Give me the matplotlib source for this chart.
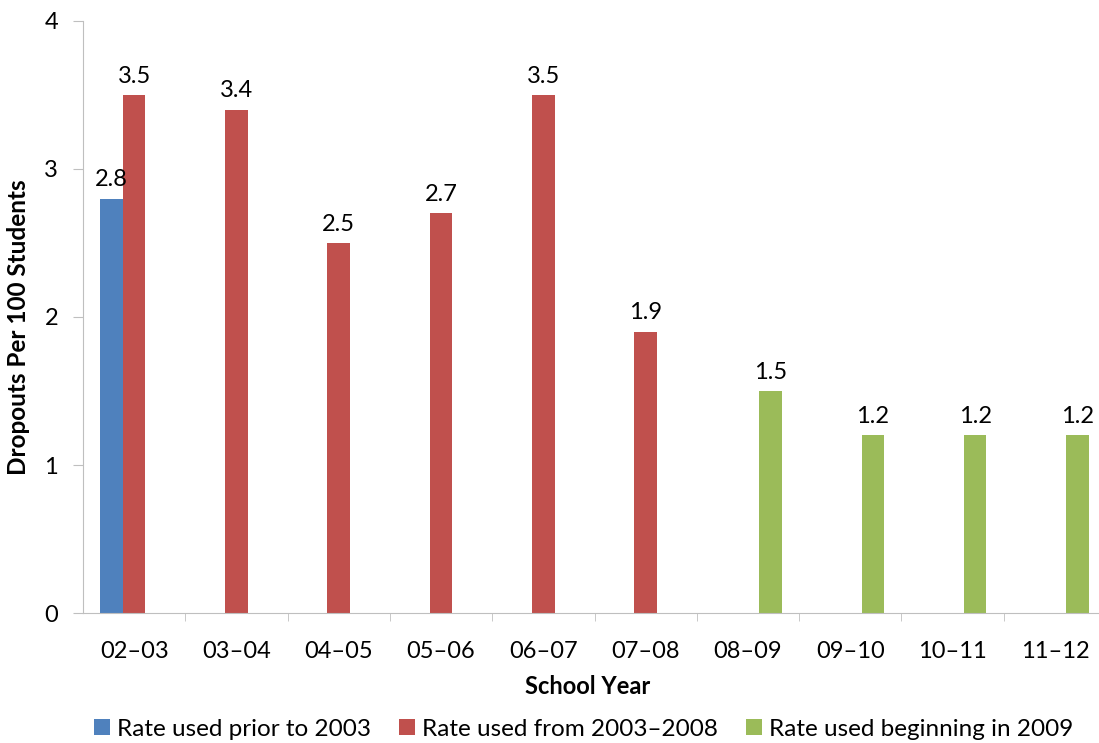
import numpy as np
import matplotlib.pyplot as plt

plt.rcParams['font.family'] = ['Lato', 'DejaVu Sans']

years = ['02\u201303', '03\u201304', '04\u201305', '05\u201306', '06\u201307',
         '07\u201308', '08\u201309', '09\u201310', '10\u201311', '11\u201312']
prior_2003 = [2.8, None, None, None, None, None, None, None, None, None]
from_2003_2008 = [3.5, 3.4, 2.5, 2.7, 3.5, 1.9, None, None, None, None]
from_2009 = [None, None, None, None, None, None, 1.5, 1.2, 1.2, 1.2]
series_names = ['Rate used prior to 2003', 'Rate used from 2003\u20132008',
                'Rate used beginning in 2009']
colors = ['#4F81BD', '#C0504D', '#9BBB59']

W, H = 1099, 743
fig = plt.figure(figsize=(W / 100, H / 100), dpi=100)
ax = fig.add_axes([83 / W, 130 / H, 1023 / W, 592 / H])

x = np.arange(len(years))
bw = 0.22
all_series = [prior_2003, from_2003_2008, from_2009]
for i, (vals, name, col) in enumerate(zip(all_series, series_names, colors)):
    v = np.array([np.nan if a is None else a for a in vals], dtype=float)
    bars = ax.bar(x + (i - 1) * bw, v, bw, color=col, label=name)
    labels = ['' if np.isnan(a) else '%.1f' % a for a in v]
    ax.bar_label(bars, labels=labels, padding=6, fontsize=17, color='#000000')

ax.set_xlim(-0.5, len(years) - 0.5)
ax.set_ylim(0, 4)
ax.set_yticks([0, 1, 2, 3, 4])
ax.set_xticks(x)
ax.set_xticklabels(years)
ax.set_xticks(np.arange(0.5, len(years) - 0.5, 1), minor=True)
ax.tick_params(axis='x', which='major', length=0, pad=20, labelsize=17)
ax.tick_params(axis='x', which='minor', length=6, color='#BFBFBF')
ax.tick_params(axis='y', length=7, color='#BFBFBF', pad=11, labelsize=17)

for s in ['top', 'right']:
    ax.spines[s].set_visible(False)
for s in ['left', 'bottom']:
    ax.spines[s].set_color('#BFBFBF')

ax.set_xlabel('School Year', fontsize=17, fontweight='bold')
ax.set_ylabel('Dropouts Per 100 Students', fontsize=17.5, fontweight='bold')
ax.yaxis.set_label_coords(-53 / 1023, (613 - 327) / 592)
ax.xaxis.set_label_coords((588 - 83) / 1023, -(675 - 613) / 592)

fig.legend(loc='center', bbox_to_anchor=(584 / W, 1 - 729 / H), ncol=3,
           frameon=False, fontsize=17.5, handlelength=0.65, handleheight=0.65,
           handletextpad=0.3, columnspacing=1.15)

fig.savefig('out.png', dpi=100)
